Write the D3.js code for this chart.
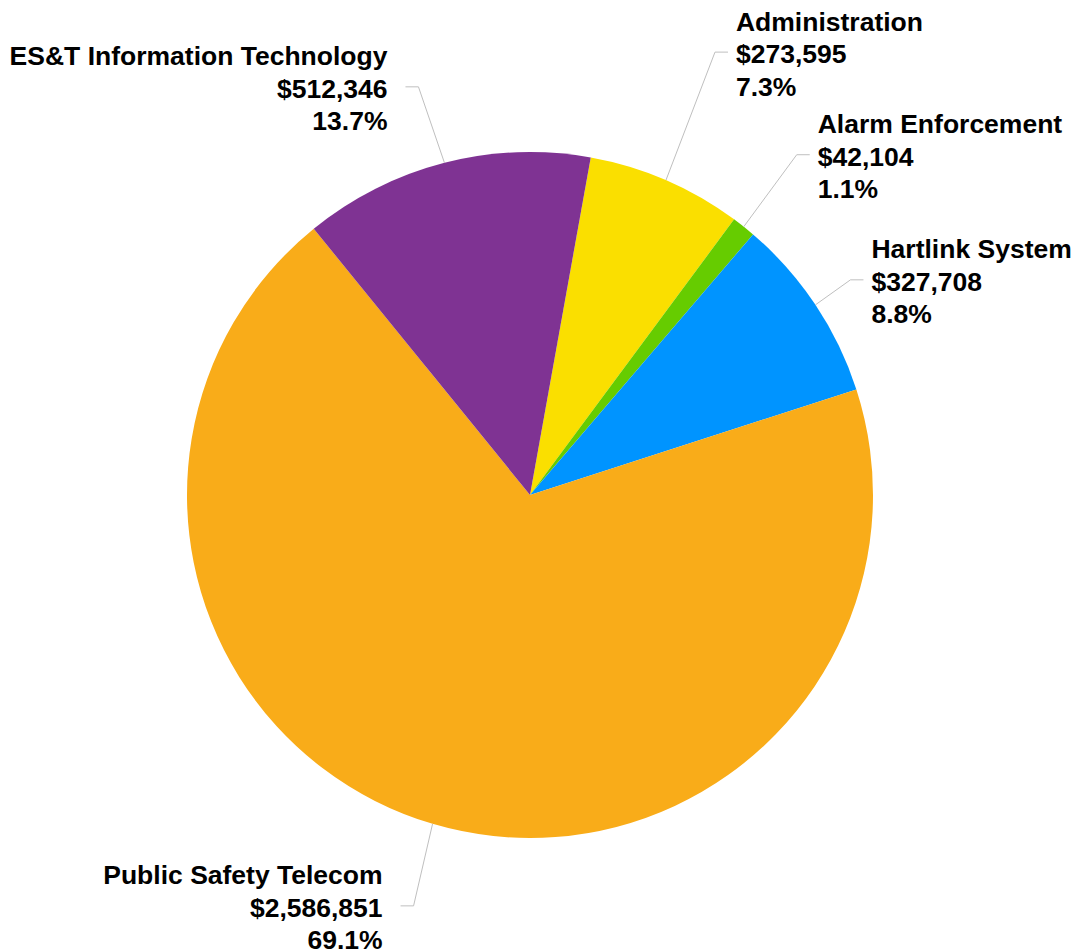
<!DOCTYPE html>
<html><head><meta charset="utf-8">
<script src="https://cdn.jsdelivr.net/npm/d3@7"></script>
<style>
html,body{margin:0;padding:0;background:#fff;}
text{font-family:"Liberation Sans",Arial,sans-serif;font-weight:bold;fill:#000;}
</style></head>
<body>
<svg id="chart" width="1075" height="951"></svg>
<script>
const categories = ["Administration","Alarm Enforcement","Hartlink System","Public Safety Telecom","ES&T Information Technology"];
const values = [273595, 42104, 327708, 2586851, 512346];
const colors = ["#FADF00","#66CC00","#0094FF","#F9AC19","#7F3393"];
// label layout: offset from slice's outer mid point to leader elbow, and side
const labelLayout = [
  {dx:49, dy:-128, side:1},
  {dx:53, dy:-72, side:1},
  {dx:35, dy:-25, side:1},
  {dx:-19, dy:82, side:-1},
  {dx:-26, dy:-76, side:-1}
];

const W=1075,H=951, cx=530, cy=495, R=343, fs=26.5, lh=32.5;
const svg=d3.select("#chart");
const g=svg.append("g").attr("transform",`translate(${cx},${cy})`);
const total=d3.sum(values);
const data=categories.map((c,i)=>({name:c,value:values[i],color:colors[i],lay:labelLayout[i]}));
const pie=d3.pie().value(d=>d.value).sort(null).startAngle(10.2*Math.PI/180).endAngle(10.2*Math.PI/180+2*Math.PI);
const arc=d3.arc().innerRadius(0).outerRadius(R);
const arcs=pie(data);
g.selectAll("path.slice").data(arcs).enter().append("path")
  .attr("d",arc).attr("fill",d=>d.data.color);

const fmt=d3.format("$,.0f");
arcs.forEach(a=>{
  const m=(a.startAngle+a.endAngle)/2;
  const px=R*Math.sin(m), py=-R*Math.cos(m);
  const ex=px+a.data.lay.dx, ey=py+a.data.lay.dy;
  const side=a.data.lay.side;
  const hx=ex+side*13;
  g.append("polyline").attr("points",`${px},${py} ${ex},${ey} ${hx},${ey}`)
    .attr("fill","none").attr("stroke","#BFBFBF").attr("stroke-width",1);
  const tx=hx+side*(side>0?8:18);
  const t=g.append("text").attr("x",tx).attr("y",ey).attr("text-anchor",side>0?"start":"end")
    .attr("font-size",fs);
  const lines=[a.data.name, fmt(a.data.value), (a.data.value/total*100).toFixed(1)+"%"];
  lines.forEach((l,i)=>{
    t.append("tspan").attr("x",tx).attr("y",ey+(i-1)*lh+11).text(l);
  });
});
</script>
</body></html>
